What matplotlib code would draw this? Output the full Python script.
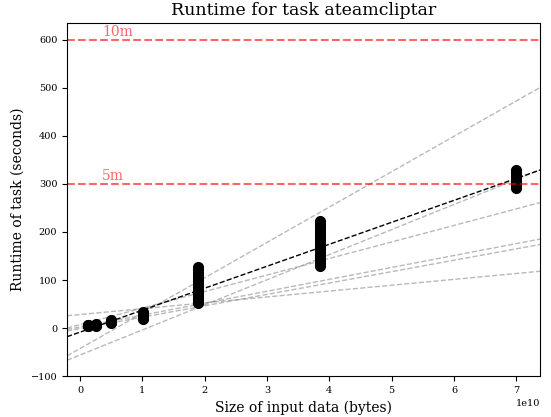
import matplotlib
matplotlib.use("Agg")
import matplotlib.pyplot as plt

plt.rcParams['font.family'] = 'DejaVu Serif'

# input sizes (bytes) and measured runtimes (seconds)
sizes = [1.3e9, 2.6e9, 5.0e9, 1.01e10, 1.89e10, 3.85e10, 7.0e10]
runtimes = [
    [4, 5, 6, 7],
    [5, 6, 7, 8],
    [10, 12, 13, 14, 15, 16],
    [19, 22, 25, 28, 31, 33],
    [52, 55, 58, 62, 66, 70, 74, 78, 82, 86, 90, 95, 100, 105, 110, 116, 122, 128],
    [130, 135, 140, 146, 152, 158, 164, 170, 176, 182, 188, 194, 200, 206, 212, 217, 222],
    [292, 297, 302, 307, 312, 317, 322, 326, 329],
]

# main fit (black) and other fits (gray): intercept in s, slope in s per 1e10 bytes
fit_intercept = -8.4
fit_slope = 45.7
other_intercepts = [28.2, -42.5, -56.0, 7.2, 2.2, -1.0]
other_slopes = [12.2, 73.6, 52.2, 34.4, 24.8, 23.7]

limits = [300, 600]
limit_labels = ["5m", "10m"]

fig = plt.figure(figsize=(5.51, 4.17), dpi=100)
ax = fig.add_axes([0.1216, 0.098, 0.8584, 0.847])

for b, m in zip(other_intercepts, other_slopes):
    ax.axline((0, b), slope=m / 1e10, color='gray', alpha=0.55, linestyle='--', linewidth=1)

ax.axline((0, fit_intercept), slope=fit_slope / 1e10, color='black', linestyle='--', linewidth=1)

for s, r in zip(sizes, runtimes):
    ax.plot([s] * len(r), r, 'o', color='black', markersize=7)

for lim, lab in zip(limits, limit_labels):
    ax.axhline(lim, color='red', alpha=0.6, linestyle='--', linewidth=1.5)
    ax.text(0.35e10, lim + 2, lab, color='red', alpha=0.6, fontsize=10, va='bottom')

ax.set_xlim(-0.21e10, 7.38e10)
ax.set_ylim(-100, 635)
ax.set_yticks([-100, 0, 100, 200, 300, 400, 500, 600])
ax.tick_params(labelsize=7)
ax.xaxis.get_offset_text().set_fontsize(7)
ax.set_title("Runtime for task ateamcliptar", fontsize=12.5)
ax.set_xlabel("Size of input data (bytes)", fontsize=10)
ax.set_ylabel("Runtime of task (seconds)", fontsize=10)

fig.savefig("out.png", dpi=100)
